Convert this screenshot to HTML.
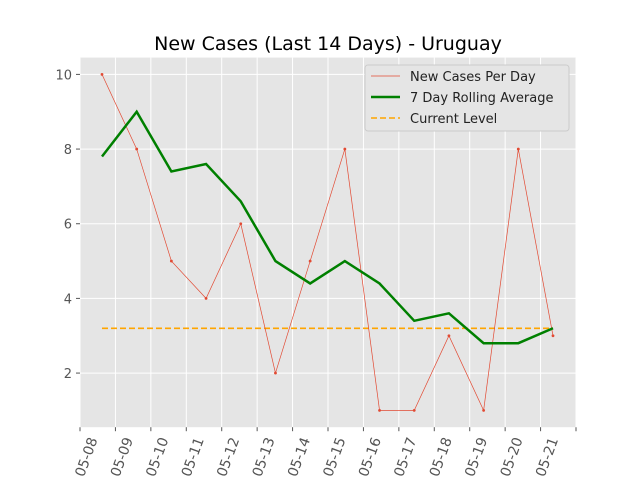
<!DOCTYPE html>
<html><head><meta charset="utf-8"><style>
body{margin:0;background:#fff;}
svg{display:block;font-family:"DejaVu Sans","Liberation Sans",sans-serif;}
</style></head><body>
<svg id="chart" width="640" height="480" xmlns="http://www.w3.org/2000/svg">
<rect width="640" height="480" fill="#fff"/>
<text x="328" y="50" text-anchor="middle" font-size="19" fill="#000">New Cases (Last 14 Days) - Uruguay</text>
<rect x="80" y="57.6" width="496" height="369.6" fill="#e5e5e5"/>
<g id="grid"></g><g id="axes"></g><g id="series"></g>
<g>
<rect x="365" y="65" width="204" height="66" rx="3" fill="#e5e5e5" stroke="#ccc" stroke-width="1"/>
<line x1="371" y1="76" x2="400" y2="76" stroke="#e24a33" stroke-width="0.7"/>
<text x="410" y="81" font-size="13" fill="#222">New Cases Per Day</text>
<line x1="371" y1="97" x2="400" y2="97" stroke="green" stroke-width="2.5"/>
<text x="410" y="102" font-size="13" fill="#222">7 Day Rolling Average</text>
<line x1="371" y1="118" x2="400" y2="118" stroke="orange" stroke-width="1.6" stroke-dasharray="6,3"/>
<text x="410" y="123" font-size="13" fill="#222">Current Level</text>
</g>
</svg>
<script>
const dates=["05-08","05-09","05-10","05-11","05-12","05-13","05-14","05-15","05-16","05-17","05-18","05-19","05-20","05-21"];
const dailyCases=[10,8,5,4,6,2,5,8,1,1,3,1,8,3];
const rollingAvg=[7.8,9,7.4,7.6,6.6,5,4.4,5,4.4,3.4,3.6,2.8,2.8,3.2];
const currentLevel=3.2;
const yTicks=[2,4,6,8,10];
const NS="http://www.w3.org/2000/svg";
const X0=80,X1=576,Y0=427.2,Y1=57.6,yMin=0.55,yMax=10.45;
const tickStep=(X1-X0)/14;
function xPt(i){return 102+i*((553-102)/(dates.length-1));}
function xTick(i){return X0+i*tickStep;}
function yS(v){return Y0-(v-yMin)/(yMax-yMin)*(Y0-Y1);}
function mk(tag,attrs,parent){const e=document.createElementNS(NS,tag);for(const k in attrs)e.setAttribute(k,attrs[k]);parent.appendChild(e);return e;}
const grid=document.getElementById('grid'),axes=document.getElementById('axes'),ser=document.getElementById('series');
for(let i=0;i<=14;i++){
  const x=xTick(i);
  const g=mk('line',{x1:x,x2:x,y1:Y1,y2:Y0,stroke:'#fff','stroke-width':1},grid);
  
  
  const t=mk('line',{x1:x,x2:x,y1:Y0,y2:Y0+4,stroke:'#555','stroke-width':1},axes);
  
  
}
dates.forEach((d,i)=>{
  const x=xTick(i);
  const t=mk('text',{x:0,y:0,'font-size':14,fill:'#555','text-anchor':'middle','dominant-baseline':'central',transform:`translate(${x+7},${Y0+30}) rotate(-70)`},axes);
  t.textContent=d;
  
  
});
yTicks.forEach(v=>{
  const y=yS(v);
  const g=mk('line',{x1:X0,x2:X1,y1:y,y2:y,stroke:'#fff','stroke-width':1},grid);
  
  
  const t=mk('line',{x1:X0-4,x2:X0,y1:y,y2:y,stroke:'#555'},axes);
  
  
  const l=mk('text',{x:X0-8,y:y+5,'font-size':13,fill:'#555','text-anchor':'end'},axes);
  l.textContent=v;
  
  
});
const lvl=mk('line',{x1:xPt(0),x2:xPt(dates.length-1),y1:yS(currentLevel),y2:yS(currentLevel),stroke:'orange','stroke-width':1.6,'stroke-dasharray':'6,3'},ser);


const dl=mk('polyline',{points:dailyCases.map((v,i)=>xPt(i)+','+yS(v)).join(' '),fill:'none',stroke:'#e24a33','stroke-width':0.7},ser);


dailyCases.forEach((v,i)=>{
  const c=mk('circle',{cx:xPt(i),cy:yS(v),r:1.4,fill:'#e24a33'},ser);
  
  
});
const rl=mk('polyline',{points:rollingAvg.map((v,i)=>xPt(i)+','+yS(v)).join(' '),fill:'none',stroke:'green','stroke-width':2.5},ser);


</script>
</body></html>
